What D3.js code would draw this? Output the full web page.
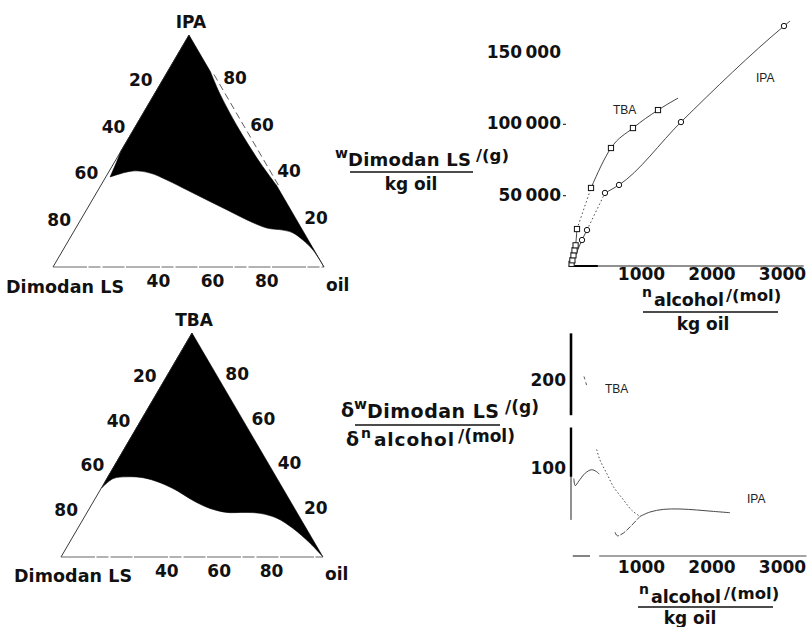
<!DOCTYPE html>
<html>
<head>
<meta charset="utf-8">
<script src="https://cdn.jsdelivr.net/npm/d3@7"></script>
<style>
  body { margin: 0; background: #fff; }
  svg { display: block; background: #fff; }
  .lbl { font-family: "DejaVu Sans", sans-serif; font-weight: bold; fill: #111; }
  .small { font-family: "Liberation Sans", Arial, sans-serif; font-size: 12px; fill: #222; }
</style>
</head>
<body>
<div id="fig"></div>
<script>
// ternary diagrams: points are [alcohol %, oil %] unless noted
var ipaLeft = [[100, 0], [50, 0], [45, 0.8], [38.8, 1.6]];
var ipaBoundary = [[38.8, 1.6], [41.4, 8.7], [40.5, 15.5], [37.5, 23.2], [33.2, 32.8], [28.9, 42.3],
  [24.6, 51.9], [20.3, 61.4], [16.8, 70.5], [15.9, 76.9], [14.7, 81.2], [11.6, 86.4], [7.3, 92.3], [0, 100]];
// right side, [alcohol %, Dimodan LS %]
var ipaRight = [[35.3, 0], [45, 1.2], [60, 1.8], [75, 1.2], [84, 0]];

var tbaLeft = [[100, 0], [35, 0], [31, 0.2]];
var tbaBoundary = [[31, 0.2], [35, 2.4], [35.8, 7.3], [35.4, 13.6], [33.2, 21.2], [29.6, 29.5], [25.2, 37.8],
  [21.7, 46], [19.9, 53.4], [19.9, 59.5], [19.5, 66.2], [17.3, 73.8], [12.8, 82.1], [6.2, 91.9], [0, 100]];
var tbaRight = [[0, 0], [100, 0]];

var leftTicks = [20, 40, 60, 80];
var rightTicks = [80, 60, 40, 20];
var baseTicks = [40, 60, 80];

// w(Dimodan LS)/kg oil against n(alcohol)/kg oil
var tbaN = [8, 20, 35, 50, 65, 85, 284, 567, 879, 1234];
var tbaW = [1500, 4000, 7500, 11000, 14500, 25900, 54700, 82700, 96700, 109300];
var tbaEnd = [1518, 117700];
var ipaN = [156, 227, 482, 681, 1560, 3021];
var ipaW = [18200, 25200, 51200, 56800, 100900, 168200];
var ipaStart = [30, 3000];
var ipaEnd = [3106, 171700];

var nTicks = [1000, 2000, 3000];
var wTicks = [50000, 100000, 150000];
var wTickText = ["50\u2009000", "100\u2009000", "150\u2009000"];

// derivative curves
var tbaDerivTop = [[184, 204], [222, 194]];
var tbaDeriv = [[364, 121], [411, 109], [506, 94], [600, 79], [742, 64], [861, 52], [979, 45]];
var ipaDerivBump = [[40, 88], [60, 80], [110, 85], [200, 94], [290, 98], [360, 96], [400, 93]];
var ipaDeriv = [[624, 27], [657, 23], [742, 26], [837, 33], [979, 45], [1121, 50], [1310, 53],
  [1546, 53.4], [1783, 52.3], [2019, 50.7], [2255, 49.2]];
var dTicks = [100, 200];

var width = 812, height = 627;

var svg = d3.select("#fig").append("svg")
  .attr("width", width)
  .attr("height", height);

function label(x, y, txt, size, anchor, len) {
  var t = svg.append("text")
    .attr("class", "lbl")
    .attr("x", x)
    .attr("y", y)
    .attr("font-size", size)
    .attr("text-anchor", anchor || "start")
    .text(txt);
  if (len) t.attr("textLength", len).attr("lengthAdjust", "spacing");
  return t;
}

// ---------- ternary ----------
function ternary(apex, left, right) {
  // a = alcohol fraction, o = oil fraction
  return function(a, o) {
    a = a / 100; o = o / 100;
    var d = 1 - a - o;
    return [a * apex[0] + d * left[0] + o * right[0], a * apex[1] + d * left[1] + o * right[1]];
  };
}

var lin = d3.line();
var smooth = d3.line().curve(d3.curveCatmullRom.alpha(0.5));

function drawTriangle(T, leftPts, boundary, rightPts, dashedRight, name, baseY, offs) {
  var apex = T(100, 0), dim = T(0, 0), oil = T(0, 100);
  var right = rightPts.map(function(p) { return T(p[0], 100 - p[0] - p[1]); });

  var d = lin(leftPts.map(function(p) { return T(p[0], p[1]); })) +
    smooth(boundary.map(function(p) { return T(p[0], p[1]); })).replace(/^M/, "L") +
    smooth(right).replace(/^M/, "L") +
    "L" + apex[0] + "," + apex[1] + "Z";

  svg.append("path")
    .attr("d", d)
    .style("fill", "#000")
    .style("stroke", "#000")
    .style("stroke-width", 0.6);

  svg.append("line")
    .attr("x1", dim[0]).attr("y1", dim[1]).attr("x2", apex[0]).attr("y2", apex[1])
    .style("stroke", "#222").style("stroke-width", 0.9);
  svg.append("line")
    .attr("x1", dim[0]).attr("y1", dim[1]).attr("x2", oil[0]).attr("y2", oil[1])
    .style("stroke", "#555").style("stroke-width", 0.9)
    .style("stroke-dasharray", "34,1.5,12,2,22,1.5");
  if (dashedRight) {
    var p1 = T(dashedRight[0], 100 - dashedRight[0]), p2 = T(dashedRight[1], 100 - dashedRight[1]);
    svg.append("line")
      .attr("x1", p1[0] + 2).attr("y1", p1[1]).attr("x2", p2[0] + 2).attr("y2", p2[1])
      .style("stroke", "#333").style("stroke-width", 0.8)
      .style("stroke-dasharray", "7,4");
  }

  leftTicks.forEach(function(v) {
    var p = T(100 - v, 0);
    label(p[0] - 21, p[1] + offs[0], v, 17, "middle");
  });
  rightTicks.forEach(function(v) {
    var p = T(v, 100 - v);
    label(p[0] + 19, p[1] + offs[1], v, 17, "middle");
  });
  baseTicks.forEach(function(v) {
    var p = T(0, v);
    label(p[0] + offs[2], p[1] + 20, v, 17, "middle");
  });

  label(apex[0] + 2, apex[1] - 7, name, 17, "middle");
  label(dim[0] + 12, baseY, "Dimodan LS", 17.5, "middle", 118);
  label(oil[0] + 2, baseY - 2, "oil", 17, "start");
}

var Tipa = ternary([189, 35], [53, 267], [324, 267]);
var Ttba = ternary([192, 333], [61, 557], [323, 557]);

drawTriangle(Tipa, ipaLeft, ipaBoundary, ipaRight, [35.3, 84], "IPA", 293, [5, 3, -3]);
drawTriangle(Ttba, tbaLeft, tbaBoundary, tbaRight, null, "TBA", 582, [4, 2, 1]);

// ---------- top right: amount of emulsifier ----------
var x = d3.scaleLinear().domain([0, 3000]).range([571, 782.5]);
var yW = d3.scaleLinear().domain([0, 150000]).range([266, 52]);

svg.append("line")
  .attr("x1", x(-30)).attr("x2", x(3300))
  .attr("y1", yW(0)).attr("y2", yW(0))
  .style("stroke", "#222").style("stroke-width", 1);
svg.append("line")
  .attr("x1", x(-30)).attr("x2", x(380))
  .attr("y1", yW(0)).attr("y2", yW(0))
  .style("stroke", "#000").style("stroke-width", 2);

wTicks.forEach(function(v, i) {
  label(561, yW(v) + 6, wTickText[i], 17, "end");
  if (i < 2) {
    svg.append("line")
      .attr("x1", 563).attr("x2", 566)
      .attr("y1", yW(v) + 1).attr("y2", yW(v) + 1)
      .style("stroke", "#333").style("stroke-width", 1.2);
  }
});
nTicks.forEach(function(v) {
  label(x(v), yW(0) + 14, v, 17, "middle");
});

var lineW = d3.line()
  .x(function(d) { return x(d[0]); })
  .y(function(d) { return yW(d[1]); })
  .curve(d3.curveMonotoneX);

var tbaPts = tbaN.map(function(n, i) { return [n, tbaW[i]]; });
var ipaPts = ipaN.map(function(n, i) { return [n, ipaW[i]]; });

function seg(gen, pts, dash, w) {
  svg.append("path")
    .attr("d", gen(pts))
    .style("fill", "none")
    .style("stroke", "#333")
    .style("stroke-width", w || 0.9)
    .style("stroke-dasharray", dash || null);
}

seg(lineW, tbaPts.slice(0, 6));
seg(lineW, tbaPts.slice(5, 7), "1.5,2.5");
seg(lineW, tbaPts.slice(6).concat([tbaEnd]));
seg(lineW, [ipaStart].concat(ipaPts.slice(0, 2)));
seg(lineW, ipaPts.slice(1, 3), "1.5,2.5");
seg(lineW, ipaPts.slice(2).concat([ipaEnd]));

svg.append("g").selectAll("rect")
  .data(tbaPts)
  .enter().append("rect")
  .attr("x", function(d) { return x(d[0]) - 2.6; })
  .attr("y", function(d) { return yW(d[1]) - 2.6; })
  .attr("width", 5.2)
  .attr("height", 5.2)
  .style("fill", "#fff")
  .style("stroke", "#111")
  .style("stroke-width", 1);

svg.append("g").selectAll("circle")
  .data(ipaPts)
  .enter().append("circle")
  .attr("cx", function(d) { return x(d[0]); })
  .attr("cy", function(d) { return yW(d[1]); })
  .attr("r", 2.7)
  .style("fill", "#fff")
  .style("stroke", "#111")
  .style("stroke-width", 1);

svg.append("text").attr("class", "small").attr("x", 613).attr("y", 114).text("TBA");
svg.append("text").attr("class", "small").attr("x", 756).attr("y", 82).text("IPA");

// axis titles
label(335, 158, "w", 14);
label(348, 166, "Dimodan LS", 18, "start", 123);
label(476, 161, "/(g)", 16.5);
svg.append("line").attr("x1", 350).attr("x2", 473).attr("y1", 172).attr("y2", 172)
  .style("stroke", "#111").style("stroke-width", 1.3);
label(411, 190, "kg oil", 17, "middle");

label(642, 297, "n", 14);
label(654, 306, "alcohol", 17.5, "start", 70);
label(726, 301, "/(mol)", 16.5);
svg.append("line").attr("x1", 643).attr("x2", 778).attr("y1", 312).attr("y2", 312)
  .style("stroke", "#111").style("stroke-width", 1.3);
label(703, 330, "kg oil", 17, "middle");

// ---------- bottom right: derivative ----------
var yD = d3.scaleLinear().domain([0, 200]).range([556, 380]);

svg.append("line")
  .attr("x1", x(0)).attr("x2", x(0))
  .attr("y1", yD(253)).attr("y2", yD(160))
  .style("stroke", "#000").style("stroke-width", 2.6);
svg.append("line")
  .attr("x1", x(0)).attr("x2", x(0))
  .attr("y1", yD(146)).attr("y2", yD(90))
  .style("stroke", "#000").style("stroke-width", 2.4);
svg.append("line")
  .attr("x1", x(0)).attr("x2", x(0))
  .attr("y1", yD(90)).attr("y2", yD(41))
  .style("stroke", "#222").style("stroke-width", 1);

svg.append("line")
  .attr("x1", x(25)).attr("x2", x(270))
  .attr("y1", yD(0)).attr("y2", yD(0))
  .style("stroke", "#222").style("stroke-width", 1.1);
svg.append("line")
  .attr("x1", x(400)).attr("x2", x(3340))
  .attr("y1", yD(0)).attr("y2", yD(0))
  .style("stroke", "#333").style("stroke-width", 0.9);

dTicks.forEach(function(v) {
  label(566, yD(v) + 6, v, 17, "end");
});
nTicks.forEach(function(v) {
  label(x(v), yD(0) + 17, v, 17, "middle");
});

var lineD = d3.line()
  .x(function(d) { return x(d[0]); })
  .y(function(d) { return yD(d[1]); })
  .curve(d3.curveCatmullRom.alpha(0.5));

seg(lineD, tbaDerivTop, "3,3", 0.8);
seg(lineD, tbaDeriv, "1.5,2.2", 0.9);
seg(lineD, ipaDerivBump, null, 0.9);
seg(lineD, ipaDeriv.slice(0, 5), "6,1.5", 0.9);
seg(lineD, ipaDeriv.slice(4), null, 0.9);

svg.append("text").attr("class", "small").attr("x", 605).attr("y", 393).text("TBA");
svg.append("text").attr("class", "small").attr("x", 747).attr("y", 503).text("IPA");

label(341, 417, "\u03b4", 19);
label(354, 409, "w", 14);
label(367, 418, "Dimodan LS", 19, "start", 132);
label(505, 413, "/(g)", 17);
svg.append("line").attr("x1", 355).attr("x2", 500).attr("y1", 425).attr("y2", 425)
  .style("stroke", "#111").style("stroke-width", 1.3);
label(346, 446, "\u03b4", 19);
label(361, 438, "n", 14);
label(374, 446, "alcohol", 18.5, "start", 80);
label(458, 442, "/(mol)", 17);

label(639, 594, "n", 14);
label(651, 603, "alcohol", 17.5, "start", 70);
label(724, 599, "/(mol)", 16.5);
svg.append("line").attr("x1", 638).attr("x2", 773).attr("y1", 607).attr("y2", 607)
  .style("stroke", "#111").style("stroke-width", 1.3);
label(690, 624, "kg oil", 17, "middle");
</script>
</body>
</html>
